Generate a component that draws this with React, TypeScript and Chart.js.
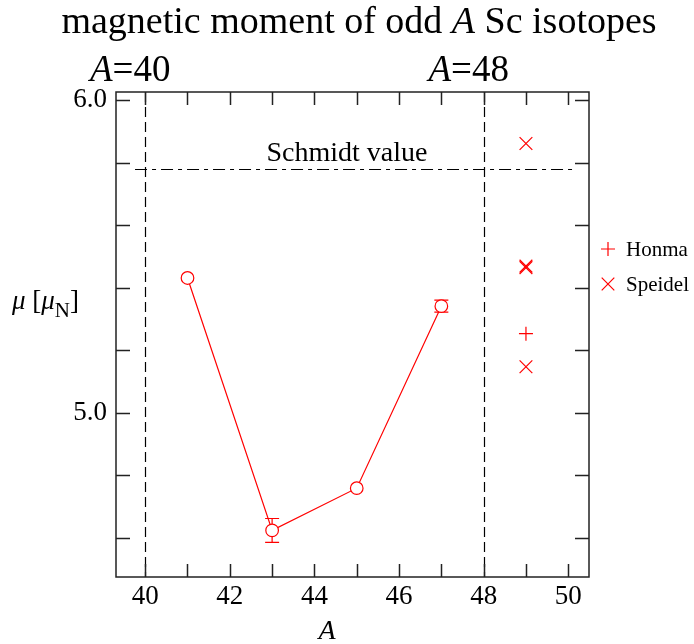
import React, { useEffect, useRef } from 'react';
import { Chart, registerables } from 'chart.js';
Chart.register(...registerables);

// ---- data ----
const massNumbers = [41, 43, 45, 47];
const moments = [5.431, 4.624, 4.759, 5.341];
const momentErrors = [0, 0.038, 0, 0.019];
const honmaA = [49];
const honmaMoments = [5.253];
const speidelA = [49, 49, 49, 49];
const speidelMoments = [5.861, 5.469, 5.464, 5.147];
const schmidtValue = 5.778;
const schmidtRange = [39.76, 50.2];
const referenceLines = [40, 48];
const referenceLabels = ['40', '48'];
const xRange = [39.31, 50.49];
const yRange = [4.475, 6.0256];

const FONT = '"Liberation Serif", "Times New Roman", serif';
const RED = '#ff0000';

type Seg = { t: string; it?: boolean; sub?: boolean };

function drawRich(ctx: CanvasRenderingContext2D, segs: Seg[], x: number, y: number, size: number, align: 'left' | 'center' | 'right') {
  const fontFor = (s: Seg) => `${s.it ? 'italic ' : ''}${s.sub ? Math.round(size * 0.78) : size}px ${FONT}`;
  let total = 0;
  const widths = segs.map((s) => {
    ctx.font = fontFor(s);
    const w = ctx.measureText(s.t).width;
    total += w;
    return w;
  });
  let cx = align === 'left' ? x : align === 'center' ? x - total / 2 : x - total;
  ctx.textAlign = 'left';
  ctx.textBaseline = 'alphabetic';
  segs.forEach((s, i) => {
    ctx.font = fontFor(s);
    ctx.fillText(s.t, cx, s.sub ? y + size * 0.28 : y);
    cx += widths[i];
  });
}

const decor = {
  id: 'decor',
  beforeDatasetsDraw(chart: any) {
    const { ctx, chartArea: a, scales } = chart;
    const x = scales.x;
    const y = scales.y;
    ctx.save();
    ctx.beginPath();
    ctx.rect(a.left, a.top, a.right - a.left, a.bottom - a.top);
    ctx.clip();
    ctx.strokeStyle = '#000';
    ctx.lineWidth = 1.2;
    ctx.setLineDash([10, 5]);
    referenceLines.forEach((v) => {
      const px = Math.round(x.getPixelForValue(v)) + 0.5;
      ctx.beginPath();
      ctx.moveTo(px, a.top);
      ctx.lineTo(px, a.bottom);
      ctx.stroke();
    });
    ctx.setLineDash([12, 5, 4, 5]);
    const sy = Math.round(y.getPixelForValue(schmidtValue)) + 0.5;
    ctx.beginPath();
    ctx.moveTo(x.getPixelForValue(schmidtRange[0]), sy);
    ctx.lineTo(x.getPixelForValue(schmidtRange[1]), sy);
    ctx.stroke();
    ctx.setLineDash([]);
    // error bars
    ctx.strokeStyle = RED;
    ctx.lineWidth = 1.2;
    massNumbers.forEach((m, i) => {
      const e = momentErrors[i];
      if (!e) return;
      const px = x.getPixelForValue(m);
      const top = y.getPixelForValue(moments[i] + e);
      const bot = y.getPixelForValue(moments[i] - e);
      ctx.beginPath();
      ctx.moveTo(px, top);
      ctx.lineTo(px, bot);
      ctx.moveTo(px - 7, top);
      ctx.lineTo(px + 7, top);
      ctx.moveTo(px - 7, bot);
      ctx.lineTo(px + 7, bot);
      ctx.stroke();
    });
    ctx.restore();
  },
  afterDraw(chart: any) {
    const { ctx, chartArea: a, scales } = chart;
    const x = scales.x;
    const y = scales.y;
    ctx.save();
    ctx.strokeStyle = '#222';
    ctx.lineWidth = 1.5;
    ctx.strokeRect(a.left, a.top, a.right - a.left, a.bottom - a.top);
    ctx.beginPath();
    x.ticks.forEach((t: any) => {
      const px = Math.round(x.getPixelForValue(t.value)) + 0.5;
      ctx.moveTo(px, a.bottom);
      ctx.lineTo(px, a.bottom - 13);
      ctx.moveTo(px, a.top);
      ctx.lineTo(px, a.top + 13);
    });
    y.ticks.forEach((t: any) => {
      const py = Math.round(y.getPixelForValue(t.value)) + 0.5;
      ctx.moveTo(a.left, py);
      ctx.lineTo(a.left + 14, py);
      ctx.moveTo(a.right, py);
      ctx.lineTo(a.right - 14, py);
    });
    ctx.stroke();

    ctx.fillStyle = '#000';
    // title
    drawRich(ctx, [{ t: 'magnetic moment of odd ' }, { t: 'A', it: true }, { t: ' Sc isotopes' }], 359, 33, 38, 'center');
    // reference labels
    referenceLines.forEach((v, i) => {
      drawRich(ctx, [{ t: 'A', it: true }, { t: '=' + referenceLabels[i] }], x.getPixelForValue(v) - 15, 81, 37, 'center');
    });
    // schmidt label
    drawRich(ctx, [{ t: 'Schmidt value' }], (x.getPixelForValue(schmidtRange[0]) + x.getPixelForValue(schmidtRange[1])) / 2 - 9, y.getPixelForValue(schmidtValue) - 8, 28, 'center');
    // axis titles
    drawRich(ctx, [{ t: 'A', it: true }], 327, 639, 28, 'center');
    drawRich(ctx, [{ t: 'μ', it: true }, { t: ' [' }, { t: 'μ', it: true }, { t: 'N', sub: true }, { t: ']' }], 12, 309, 27, 'left');

    // legend
    const lx = 608;
    const items = [
      { name: 'Honma', style: 'cross', y: 249 },
      { name: 'Speidel', style: 'crossRot', y: 284 },
    ];
    ctx.strokeStyle = RED;
    ctx.lineWidth = 1.2;
    items.forEach((it) => {
      ctx.beginPath();
      if (it.style === 'cross') {
        ctx.moveTo(lx - 7, it.y);
        ctx.lineTo(lx + 7, it.y);
        ctx.moveTo(lx, it.y - 7);
        ctx.lineTo(lx, it.y + 7);
      } else {
        ctx.moveTo(lx - 6.3, it.y - 6.3);
        ctx.lineTo(lx + 6.3, it.y + 6.3);
        ctx.moveTo(lx - 6.3, it.y + 6.3);
        ctx.lineTo(lx + 6.3, it.y - 6.3);
      }
      ctx.stroke();
      ctx.fillStyle = '#000';
      drawRich(ctx, [{ t: it.name }], 626, it.y + 7, 21, 'left');
    });
    ctx.restore();
  },
};

export default function App() {
  const ref = useRef<HTMLCanvasElement | null>(null);
  useEffect(() => {
    document.body.style.margin = '0';
    const canvas = ref.current!;
    const chart = new Chart(canvas, {
      type: 'scatter',
      data: {
        datasets: [
          {
            label: 'measured',
            data: massNumbers.map((m, i) => ({ x: m, y: moments[i] })),
            showLine: true,
            borderColor: RED,
            borderWidth: 1.2,
            pointStyle: 'circle',
            pointRadius: 6.3,
            pointBackgroundColor: '#fff',
            pointBorderColor: RED,
            pointBorderWidth: 1.2,
          },
          {
            label: 'Honma',
            data: honmaA.map((m, i) => ({ x: m, y: honmaMoments[i] })),
            showLine: false,
            pointStyle: 'cross',
            pointRadius: 7,
            pointBorderColor: RED,
            pointBorderWidth: 1.2,
          },
          {
            label: 'Speidel',
            data: speidelA.map((m, i) => ({ x: m, y: speidelMoments[i] })),
            showLine: false,
            pointStyle: 'crossRot',
            pointRadius: 9,
            pointBorderColor: RED,
            pointBorderWidth: 1.2,
          },
        ],
      },
      options: {
        responsive: false,
        animation: false,
        layout: { padding: { left: 0, top: 92, right: 105, bottom: 0 } },
        plugins: { legend: { display: false }, tooltip: { enabled: false }, title: { display: false } },
        scales: {
          x: {
            type: 'linear',
            min: xRange[0],
            max: xRange[1],
            grid: { display: false, drawTicks: false },
            border: { display: false },
            ticks: {
              stepSize: 1,
              includeBounds: false,
              autoSkip: false,
              maxRotation: 0,
              padding: 4,
              color: '#000',
              font: { family: FONT, size: 27 },
              callback: (v: any) => (Math.round(v) % 2 === 0 ? String(Math.round(v)) : ''),
            },
            afterFit: (s: any) => {
              s.height = 67;
            },
          },
          y: {
            type: 'linear',
            min: yRange[0],
            max: yRange[1],
            grid: { display: false, drawTicks: false },
            border: { display: false },
            ticks: {
              stepSize: 0.2,
              includeBounds: false,
              autoSkip: false,
              padding: 9,
              color: '#000',
              font: { family: FONT, size: 27 },
              callback: (v: any) => (Math.abs(v - Math.round(v)) < 1e-6 ? Number(v).toFixed(1) : ''),
            },
            afterFit: (s: any) => {
              s.width = 116;
            },
          },
        },
      },
      plugins: [decor],
    });
    return () => chart.destroy();
  }, []);
  return <canvas ref={ref} width={694} height={644} style={{ display: 'block' }} />;
}
